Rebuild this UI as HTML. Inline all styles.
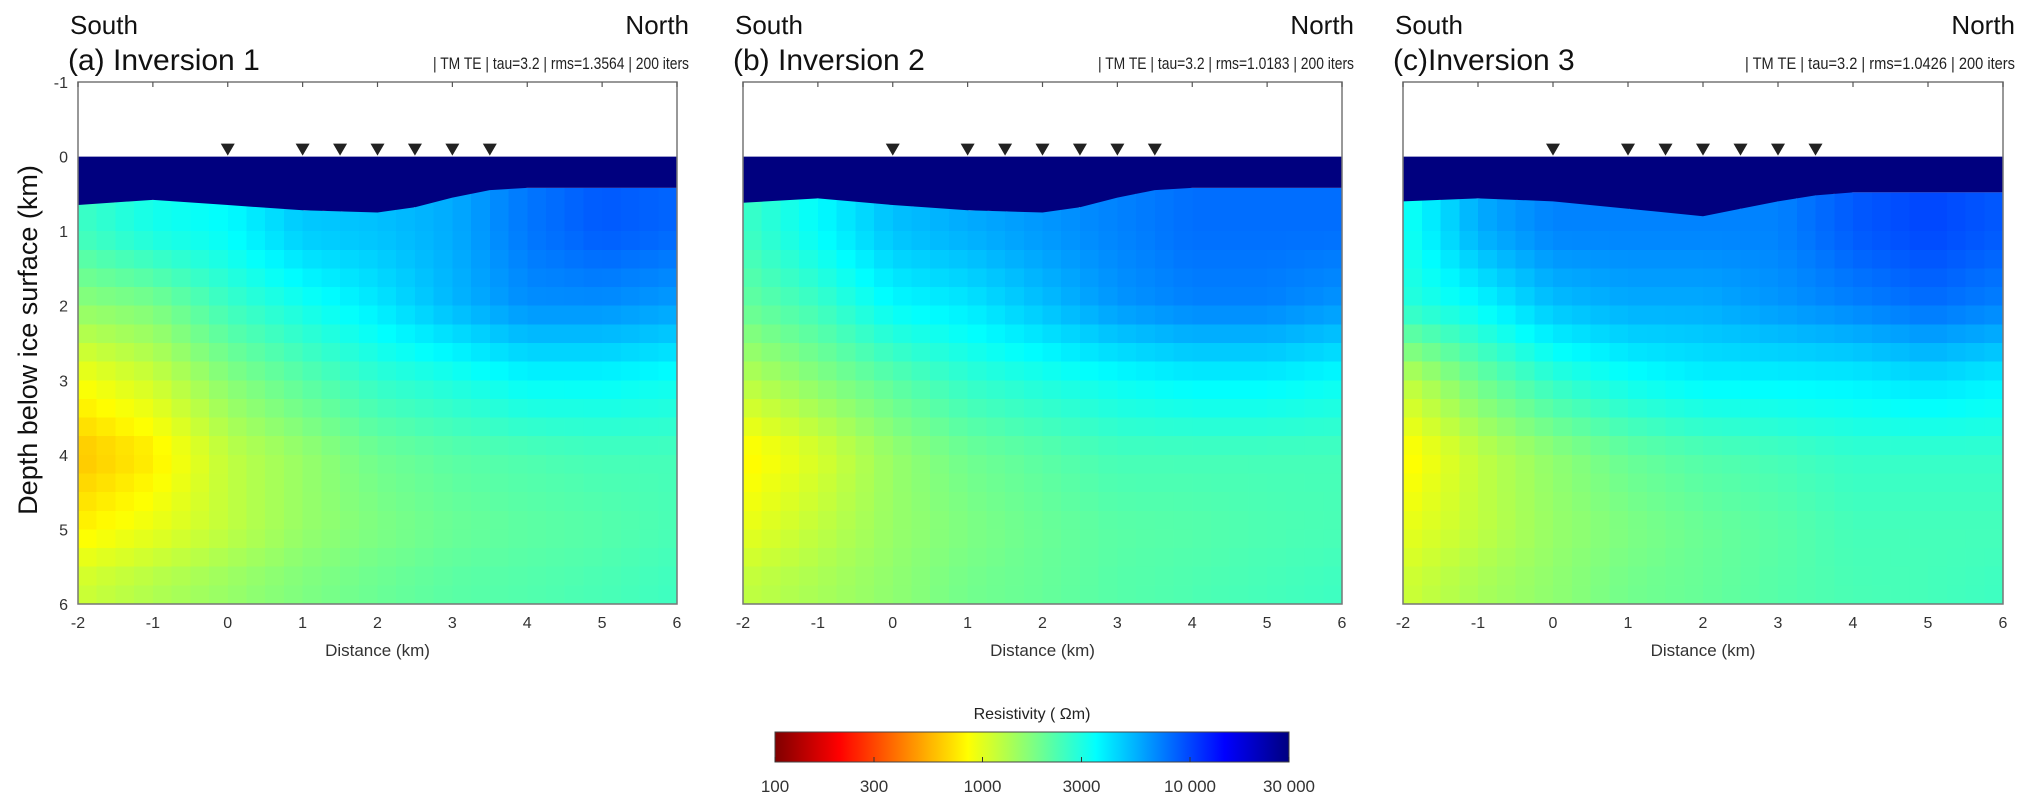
<!DOCTYPE html>
<html><head><meta charset="utf-8"><style>
html,body{margin:0;padding:0;background:#fff;}
svg{display:block;font-family:"Liberation Sans",sans-serif;}
</style></head><body>
<svg id="fig" width="2040" height="804" viewBox="0 0 2040 804"></svg>
<script>
const NS="http://www.w3.org/2000/svg";
const svg=document.getElementById('fig');
// ---- data ----
const xNodes=[-2,-1,0,1,2,3,4,5,6];
const depthNodes=[1,2,3,4,5,5.75];
const xTicks=[-2,-1,0,1,2,3,4,5,6];
const yTicks=[-1,0,1,2,3,4,5,6];
const stations=[0,1,1.5,2,2.5,3,3.5];
const cbTickVals=[100,300,1000,3000,10000,30000];
const cbTickLabels=["100","300","1000","3000","10 000","30 000"];
const iceX=[-2,-1,0,1,2,2.5,3,3.5,4,5,6];
const iceBottom1=[0.65,0.58,0.65,0.72,0.75,0.68,0.55,0.45,0.42,0.42,0.42];
const iceBottom2=[0.62,0.56,0.65,0.72,0.75,0.68,0.55,0.45,0.42,0.42,0.42];
const iceBottom3=[0.6,0.56,0.6,0.7,0.8,0.7,0.6,0.52,0.48,0.48,0.48];
const logRho1=[
[3.4,3.5,3.55,3.68,3.7,3.75,3.88,3.95,3.92],
[3.2,3.25,3.4,3.5,3.6,3.72,3.82,3.82,3.78],
[2.95,3.05,3.22,3.33,3.43,3.48,3.55,3.55,3.52],
[2.78,2.88,3.08,3.18,3.28,3.33,3.36,3.38,3.38],
[2.9,2.98,3.08,3.18,3.24,3.29,3.32,3.34,3.37],
[3.05,3.12,3.18,3.24,3.29,3.33,3.35,3.37,3.4]];
const logRho2=[
[3.4,3.55,3.7,3.75,3.8,3.85,3.9,3.9,3.9],
[3.3,3.4,3.55,3.6,3.7,3.8,3.85,3.85,3.8],
[3.1,3.22,3.33,3.43,3.48,3.53,3.57,3.57,3.53],
[2.9,3.02,3.18,3.28,3.33,3.38,3.38,3.38,3.38],
[2.98,3.08,3.18,3.24,3.29,3.33,3.34,3.36,3.37],
[3.08,3.14,3.2,3.27,3.3,3.34,3.36,3.38,3.4]];
const logRho3=[
[3.5,3.75,3.85,3.85,3.85,3.85,3.95,4.0,3.95],
[3.45,3.55,3.7,3.75,3.75,3.8,3.85,3.9,3.85],
[3.08,3.28,3.43,3.52,3.57,3.57,3.58,3.62,3.58],
[2.9,3.08,3.2,3.3,3.35,3.38,3.42,3.42,3.42],
[2.98,3.08,3.18,3.24,3.29,3.33,3.38,3.38,3.38],
[3.05,3.14,3.2,3.27,3.3,3.34,3.37,3.38,3.4]];
const panelLabels=["(a) Inversion 1","(b) Inversion 2","(c)Inversion 3"];
const panelRms=["1.3564","1.0183","1.0426"];
// ---- helpers ----
function el(tag,attrs,parent){const e=document.createElementNS(NS,tag);for(const k in attrs)e.setAttribute(k,attrs[k]);(parent||svg).appendChild(e);return e;}
function txt(s,attrs,parent){const e=el('text',attrs,parent);e.textContent=s;return e;}
function jet(t){
  const r=Math.min(Math.max(Math.min(4*t-1.5,-4*t+4.5),0),1);
  const g=Math.min(Math.max(Math.min(4*t-0.5,-4*t+3.5),0),1);
  const b=Math.min(Math.max(Math.min(4*t+0.5,-4*t+2.5),0),1);
  return `rgb(${Math.round(r*255)},${Math.round(g*255)},${Math.round(b*255)})`;
}
const LMIN=2,LMAX=Math.log10(30000);
function rhoColor(l){let t=(l-LMIN)/(LMAX-LMIN);t=Math.max(0,Math.min(1,t));return jet(1-t);}
function interp1(xs,ys,x){if(x<=xs[0])return ys[0];for(let i=1;i<xs.length;i++){if(x<=xs[i]){const f=(x-xs[i-1])/(xs[i]-xs[i-1]);return ys[i-1]+f*(ys[i]-ys[i-1]);}}return ys[ys.length-1];}
function grid(vals,x,d){
  const col=xNodes.map((_,j)=>interp1(depthNodes,vals.map(r=>r[j]),d));
  return interp1(xNodes,col,x);
}
const panels=[{x0:78,x1:677,vals:logRho1,ice:iceBottom1},{x0:743,x1:1342,vals:logRho2,ice:iceBottom2},{x0:1403,x1:2003,vals:logRho3,ice:iceBottom3}];
const Y0=82,Y1=604;
panels.forEach((p,pi)=>{
  const g=el('g',{});
  
  
  const sx=v=>p.x0+(v+2)/8*(p.x1-p.x0);
  const sy=v=>Y0+(v+1)/7*(Y1-Y0);
  const cg=el('g',{'shape-rendering':'crispEdges'},g);
  
  
  const dx=0.25,dd=0.25;
  for(let x=-2;x<6-1e-9;x+=dx){
    const ib=Math.min(interp1(iceX,p.ice,x),interp1(iceX,p.ice,x+dx));
    for(let d=0;d<6-1e-9;d+=dd){
      const top=Math.max(d,ib);const bot=d+dd;
      if(bot<=ib)continue;
      const v=grid(p.vals,x+dx/2,Math.max(d+dd/2,0.75));
      const w=Math.min(sx(x+dx)+1,p.x1)-sx(x);
      const h=Math.min(sy(bot)+1,Y1)-sy(top);
      const r=el('rect',{x:sx(x),y:sy(top),width:w,height:h,fill:rhoColor(v)},cg);
      
      
    }
  }
  let d=`M${sx(-2)},${sy(0)} L${sx(6)},${sy(0)}`;
  for(let i=iceX.length-1;i>=0;i--)d+=` L${sx(iceX[i])},${sy(p.ice[i])}`;
  const ice=el('path',{d:d+'Z',fill:'#00007f'},g);
  
  
  const fr=el('rect',{x:p.x0,y:Y0,width:p.x1-p.x0,height:Y1-Y0,fill:'none',stroke:'#777','stroke-width':1.5},g);
  
  
  xTicks.forEach(t=>{
    el('line',{x1:sx(t),x2:sx(t),y1:Y0,y2:Y0+5,stroke:'#555','stroke-width':1.2},g);
    const l=txt(String(t),{x:sx(t),y:Y1+24,'text-anchor':'middle','font-size':16,fill:'#333'},g);
    
    
  });
  const xt=txt('Distance (km)',{x:(p.x0+p.x1)/2,y:Y1+52,'text-anchor':'middle','font-size':17,fill:'#333'},g);
  
  
  if(pi===0){
    yTicks.forEach(t=>{
      const l=txt(String(t),{x:p.x0-10,y:sy(t)+6,'text-anchor':'end','font-size':16,fill:'#333'},g);
      
      
    });
  }
  stations.forEach(s=>{
    const c=sx(s);
    const tri=el('polygon',{points:`${c-7},${sy(0)-13} ${c+7},${sy(0)-13} ${c},${sy(0)-1}`,fill:'#222'},g);
    
    
  });
  const so=txt('South',{x:p.x0-8,y:34,'font-size':26,fill:'#111'},g);
  
  
  const no=txt('North',{x:p.x1+12,y:34,'text-anchor':'end','font-size':26,fill:'#111'},g);
  
  
  const ti=txt(panelLabels[pi],{x:p.x0-10,y:70,'font-size':30,fill:'#111'},g);
  
  
  const sub=txt('| TM TE | tau=3.2 | rms='+panelRms[pi]+' | 200 iters',{x:p.x1+12,y:69,'text-anchor':'end','font-size':17,fill:'#222','textLength':pi===2?270:256,'lengthAdjust':'spacingAndGlyphs'},g);
  
  
});
const yl=txt('Depth below ice surface (km)',{x:0,y:0,'text-anchor':'middle','font-size':27,fill:'#111',transform:'translate(37,340) rotate(-90)'});


const CB={x0:775,x1:1289,y0:732,y1:762};
const cb=el('g',{});


const defs=el('defs',{},cb);
const lg=el('linearGradient',{id:'cbg',x1:0,x2:1,y1:0,y2:0},defs);
for(let i=0;i<=40;i++){el('stop',{offset:i/40,'stop-color':jet(1-i/40)},lg);}
el('rect',{x:CB.x0,y:CB.y0,width:CB.x1-CB.x0,height:CB.y1-CB.y0,fill:'url(#cbg)',stroke:'#444','stroke-width':1},cb);
const cx=v=>CB.x0+(Math.log10(v)-LMIN)/(LMAX-LMIN)*(CB.x1-CB.x0);
cbTickVals.forEach((v,i)=>{
  el('line',{x1:cx(v),x2:cx(v),y1:CB.y1,y2:CB.y1-5,stroke:'#333'},cb);
  const l=txt(cbTickLabels[i],{x:cx(v),y:CB.y1+30,'text-anchor':'middle','font-size':17,fill:'#333'},cb);
  
  
});
const ct=txt('Resistivity (  Ωm)',{x:(CB.x0+CB.x1)/2,y:CB.y0-13,'text-anchor':'middle','font-size':16,fill:'#222'},cb);


</script>
</body></html>
